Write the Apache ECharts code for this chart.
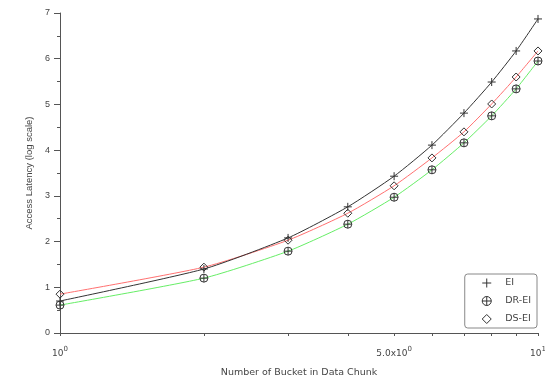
<!DOCTYPE html>
<html><head><meta charset="utf-8">
<script src="https://cdn.jsdelivr.net/npm/echarts@6/dist/echarts.min.js"></script>
<style>html,body{margin:0;padding:0;background:#fff}#c{width:545px;height:379px}</style>
</head><body><div id="c"></div>
<script>
// ---- data ----
const buckets = [1, 2, 3, 4, 5, 6, 7, 8, 9, 10];
const ei   = [0.70, 1.40, 2.08, 2.76, 3.43, 4.11, 4.81, 5.49, 6.17, 6.87];
const drEi = [0.61, 1.20, 1.79, 2.38, 2.97, 3.57, 4.16, 4.75, 5.34, 5.95];
const dsEi = [0.85, 1.44, 2.03, 2.62, 3.22, 3.83, 4.40, 5.01, 5.60, 6.17];
const seriesNames = ['EI', 'DR-EI', 'DS-EI'];
const xTickValues = [1, 2, 3, 4, 5, 6, 7, 8, 9, 10];
const xLabelValues = [1, 5, 10];
const xLabelMantissa = ['10', '5.0x10', '10'];
const xLabelExponent = ['0', '0', '1'];
const xTitle = 'Number of Bucket in Data Chunk';
const yTitle = 'Access Latency (log scale)';

// ---- style ----
const FONT = 'Liberation Sans';
const WFONT = 'DejaVu Sans';
const TXT = '#444';
const AX = '#555';
const MK = '#333';
const PLUS = 'path://M5,0 L5,10 M0,5 L10,5';
const OPLUS = 'path://M10,5 A5,5 0 1,1 0,5 A5,5 0 1,1 10,5 Z M0,5 L10,5 M5,0 L5,10';
const DIAM = 'path://M5,0 L10,5 L5,10 L0,5 Z';
const symbols = [PLUS, OPLUS, DIAM];
const lineColors = ['#333333', '#66ee66', '#ff7070'];
const values = [ei, drEi, dsEi];

const chart = echarts.init(document.getElementById('c'), null, {renderer: 'canvas'});
const mkStyle = {color: 'none', borderColor: MK, borderWidth: 1};

chart.setOption({
  animation: false,
  backgroundColor: '#fff',
  textStyle: {fontFamily: FONT},
  grid: {left: 60, right: 7, top: 13, bottom: 46, containLabel: false, outerBoundsMode: 'none'},
  legend: {
    orient: 'vertical', right: 8, bottom: 51,
    itemWidth: 9, itemHeight: 9, itemGap: 4,
    padding: [2, 6, 2, 15],
    borderColor: '#888', borderWidth: 1, borderRadius: 3,
    textStyle: {color: TXT, fontSize: 9.5, fontFamily: WFONT, padding: [0, 0, 0, 9], lineHeight: 12},
    data: seriesNames.map((n, i) => ({name: n, icon: symbols[i], itemStyle: mkStyle}))
  },
  xAxis: {
    type: 'log', logBase: 10, min: 1, max: 10,
    name: xTitle, nameLocation: 'middle', nameGap: 35,
    nameTextStyle: {color: TXT, fontSize: 9.5, fontFamily: WFONT},
    axisLine: {lineStyle: {color: AX, width: 1}},
    axisTick: {show: true, length: 3, customValues: xTickValues, lineStyle: {color: AX}},
    splitLine: {show: false},
    axisLabel: {
      customValues: xLabelValues, margin: 13, color: TXT, fontFamily: WFONT,
      formatter: function (v) {
        const i = xLabelValues.indexOf(Math.round(v));
        if (i < 0) return '';
        return '{m|' + xLabelMantissa[i] + '}{s|' + xLabelExponent[i] + '}';
      },
      rich: {
        m: {fontSize: 9, color: TXT, fontFamily: WFONT},
        s: {fontSize: 7, color: TXT, fontFamily: WFONT, padding: [0, 0, 8, 0]}
      }
    }
  },
  yAxis: {
    type: 'value', min: 0, max: 7, interval: 1,
    name: yTitle, nameLocation: 'middle', nameGap: 25, nameRotate: 90,
    nameTextStyle: {color: TXT, fontSize: 9.5, fontFamily: FONT},
    axisLine: {show: true, lineStyle: {color: AX, width: 1}},
    axisTick: {show: true, length: 6, lineStyle: {color: AX}},
    minorTick: {show: true, splitNumber: 2, length: 3, lineStyle: {color: AX}},
    splitLine: {show: false},
    axisLabel: {color: TXT, fontSize: 9, margin: 10, fontFamily: FONT}
  },
  series: seriesNames.map((n, i) => ({
    name: n, type: 'line',
    data: buckets.map((b, j) => [b, values[i][j]]),
    symbol: symbols[i], symbolSize: 8, showSymbol: true,
    smooth: 0.2,
    lineStyle: {color: lineColors[i], width: 1},
    itemStyle: mkStyle,
    z: i === 0 ? 3 : 2
  }))
});
</script></body></html>
